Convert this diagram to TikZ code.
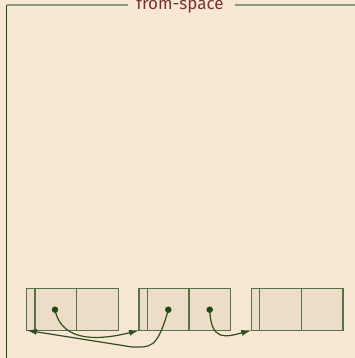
\documentclass[tikz,border=0pt]{standalone}
\usepackage{fontspec}
\setmainfont{Fira Sans}
\usetikzlibrary{arrows.meta}
\definecolor{bg}{HTML}{F8E7D3}
\definecolor{cellfill}{HTML}{EDDDC7}
\definecolor{cellline}{HTML}{557248}
\definecolor{darkgreen}{HTML}{1E4A12}
\definecolor{topline}{HTML}{8C9C74}
\definecolor{titlered}{HTML}{7A3434}
\definecolor{arrowgreen}{HTML}{2C4F1E}
\tikzset{
  hdr/.style={draw=cellline, fill=cellfill, line width=1.3pt, inner sep=0pt, outer sep=0pt,
    minimum width=8.4pt, minimum height=41.6pt, anchor=north west},
  cellbox/.style={draw=cellline, fill=cellfill, line width=1.3pt, inner sep=0pt, outer sep=0pt,
    minimum width=41.7pt, minimum height=41.6pt, anchor=north west},
  ptr/.style={circle, fill=darkgreen, inner sep=0pt, minimum size=6.5pt},
  link/.style={draw=arrowgreen, line width=1.2pt, -{Latex[length=10pt,width=6pt]}},
}
\begin{document}
\begin{tikzpicture}[x=1pt,y=-1pt]
\fill[bg] (0,0) rectangle (355,358);
\useasboundingbox (0,0) rectangle (355,358);
% frame
\coordinate (fl) at (6.5,358);
\coordinate (ftl) at (6.5,5.2);
\coordinate (ftr) at (355,5.2);
\node[font=\fontsize{17}{17}\selectfont, text=titlered, inner sep=0pt, anchor=base] (title) at (180,9.5) {from-space};
\draw[topline, line width=1.6pt] (ftl) -- (128,5.2);
\draw[topline, line width=1.6pt] (235,5.2) -- (ftr);
\draw[darkgreen, line width=1.5pt] (ftl) -- (fl);
% boxes
\foreach \i/\x in {1/26.7, 2/139.0, 3/251.3}{
  \node[hdr] (h\i) at (\x,288.7) {};
  \node[cellbox] (a\i) at (h\i.north east) {};
  \node[cellbox] (b\i) at (a\i.north east) {};
}
% pointers
\node[ptr] (d1) at (55,309.7) {};
\node[ptr] (d2) at (168.3,309.7) {};
\node[ptr] (d3) at (209.7,309.7) {};
\draw[link] (d1.center) .. controls (62,345) and (105,339) .. (h2.south west);
\draw[link] (d2.center) .. controls (157,350) and (150,347) .. (132,347) -- (h1.south west);
\draw[link] (d3.center) .. controls (211,342) and (226,337) .. (h3.south west);
\end{tikzpicture}
\end{document}
